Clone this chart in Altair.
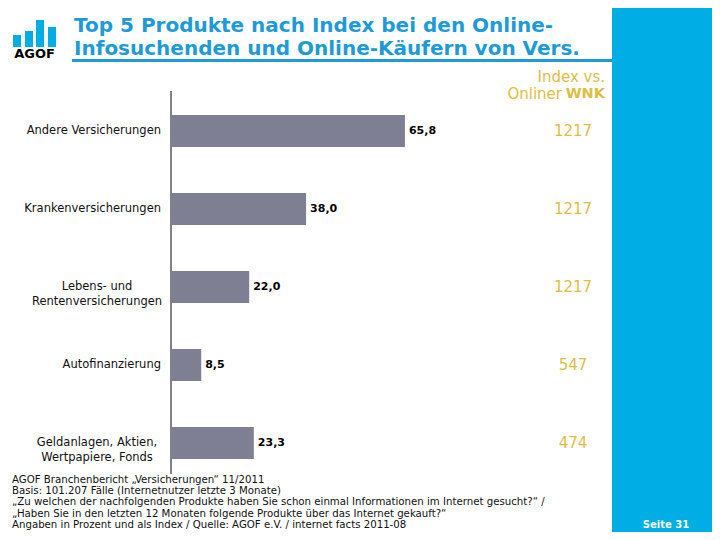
import altair as alt
import pandas as pd

# ---------------- data ----------------
CATEGORIES = [
    "Andere Versicherungen",
    "Krankenversicherungen",
    "Lebens- und Rentenversicherungen",
    "Autofinanzierung",
    "Geldanlagen, Aktien, Wertpapiere, Fonds",
]
CATEGORY_LABELS = [
    "Andere Versicherungen",
    "Krankenversicherungen",
    "Lebens- und\nRentenversicherungen",
    "Autofinanzierung",
    "Geldanlagen, Aktien,\nWertpapiere, Fonds",
]
SHARE = [65.8, 38.0, 22.0, 8.5, 23.3]
INDEX = [1217, 1217, 1217, 547, 474]

TITLE_LINES = [
    "Top 5 Produkte nach Index bei den Online-",
    "Infosuchenden und Online-Käufern von Vers.",
]
HEADER_1 = "Index vs."
HEADER_2A = "Onliner"
HEADER_2B = "WNK"
FOOTNOTE = [
    "AGOF Branchenbericht \u201eVersicherungen\u201c 11/2011",
    "Basis: 101.207 Fälle (Internetnutzer letzte 3 Monate)",
    "\u201eZu welchen der nachfolgenden Produkte haben Sie schon einmal Informationen im Internet gesucht?\u201c /",
    "\u201eHaben Sie in den letzten 12 Monaten folgende Produkte über das Internet gekauft?\u201c",
    "Angaben in Prozent und als Index / Quelle: AGOF e.V. / internet facts 2011-08",
]
PAGE_LABEL = "Seite 31"
LOGO_TEXT = "AGOF"

# ---------------- styles ----------------
FONT = "DejaVu Sans"
BLUE = "#00AEE6"
TITLE_BLUE = "#1E9BD7"
GOLD = "#DDBE45"
BAR = "#7F7F94"
AXIS = "#80808F"

df = pd.DataFrame({
    "cat": CATEGORIES,
    "label": CATEGORY_LABELS,
    "share": SHARE,
    "index": INDEX,
})
df["share_txt"] = [f"{v:.1f}".replace(".", ",") for v in SHARE]
df["kind"] = ["multi" if "\n" in s else "single" for s in CATEGORY_LABELS]

one = pd.DataFrame({"t": [""]})

x_scale = alt.Scale(domain=[0, 100], range=[163, 518.5])
y_scale = alt.Scale(domain=CATEGORIES, range=[84, 474], paddingInner=0.59, paddingOuter=0.295)

base = alt.Chart(df).encode(y=alt.Y("cat:N", scale=y_scale, axis=None, sort=None))

bars = base.mark_bar(color=BAR).encode(x=alt.X("share:Q", scale=x_scale, axis=None))

values = base.mark_text(align="left", baseline="middle", dx=4, font=FONT,
                        fontWeight="bold", fontSize=11, color="black").encode(
    x=alt.X("share:Q", scale=x_scale, axis=None), text="share_txt:N")

labels_single = base.mark_text(align="right", baseline="middle", font=FONT, fontSize=11.5,
                               color="#111111").encode(
    x=alt.value(153), text="label:N").transform_filter(alt.datum.kind == "single")

labels_multi = base.mark_text(align="center", baseline="middle", font=FONT, fontSize=11.5,
                              lineBreak="\n", lineHeight=14.5, color="#111111").encode(
    x=alt.value(89), text="label:N").transform_filter(alt.datum.kind == "multi")

index_txt = base.mark_text(align="center", baseline="middle", font=FONT, fontSize=15,
                           color=GOLD).encode(x=alt.value(565), text="index:N")

axis_rule = alt.Chart(pd.DataFrame({"z": [0]})).mark_rule(color=AXIS, strokeWidth=2).encode(
    x=alt.X("z:Q", scale=x_scale, axis=None), y=alt.value(83), y2=alt.value(466))

panel = alt.Chart(one).mark_rect(color=BLUE).encode(
    x=alt.value(604), x2=alt.value(704), y=alt.value(0), y2=alt.value(524))


def text_layer(txt, x, y, **kw):
    return alt.Chart(pd.DataFrame({"t": [txt]})).mark_text(font=FONT, **kw).encode(
        x=alt.value(x), y=alt.value(y), text="t:N")


title1 = text_layer(TITLE_LINES[0], 66, 24, align="left", baseline="alphabetic",
                    fontSize=20, fontWeight="bold", color=TITLE_BLUE)
title2 = text_layer(TITLE_LINES[1], 66, 47, align="left", baseline="alphabetic",
                    fontSize=20, fontWeight="bold", color=TITLE_BLUE)
underline = alt.Chart(one).mark_rule(color=TITLE_BLUE, strokeWidth=3).encode(
    x=alt.value(64), x2=alt.value(604), y=alt.value(52.5))


def logo_bar(x0, x1, y0, y1):
    return alt.Chart(one).mark_rect(color=BLUE).encode(
        x=alt.value(x0), x2=alt.value(x1), y=alt.value(y0), y2=alt.value(y1))


logo = [logo_bar(5, 13, 27, 39), logo_bar(17, 25, 23, 39),
        logo_bar(28, 36, 12, 39), logo_bar(40, 48, 19, 39)]
logo_txt = text_layer(LOGO_TEXT, 26.5, 46, align="center", baseline="middle",
                      fontSize=13, fontWeight="bold", color="black")

head1 = text_layer(HEADER_1, 597, 69, align="right", baseline="middle", fontSize=15, color=GOLD)
head2a = text_layer(HEADER_2A, 554, 86, align="right", baseline="middle", fontSize=15, color=GOLD)
head2b = text_layer(HEADER_2B, 597, 86, align="right", baseline="middle", fontSize=14.5,
                    fontWeight="bold", color=GOLD)

foot = text_layer("\n".join(FOOTNOTE), 4, 467, align="left", baseline="top", fontSize=10.2,
                  lineBreak="\n", lineHeight=11.2, color="#111111")
page = text_layer(PAGE_LABEL, 658, 517, align="center", baseline="middle", fontSize=10,
                  fontWeight="bold", color="white")

chart = alt.layer(
    panel, underline, title1, title2, *logo, logo_txt, head1, head2a, head2b,
    bars, axis_rule, values, labels_single, labels_multi, index_txt, foot, page,
).properties(width=704, height=524, padding=0, autosize="none", background="white"
).configure_view(stroke=None)

chart.save("out.html", embed_options={"renderer": "svg", "actions": False})
